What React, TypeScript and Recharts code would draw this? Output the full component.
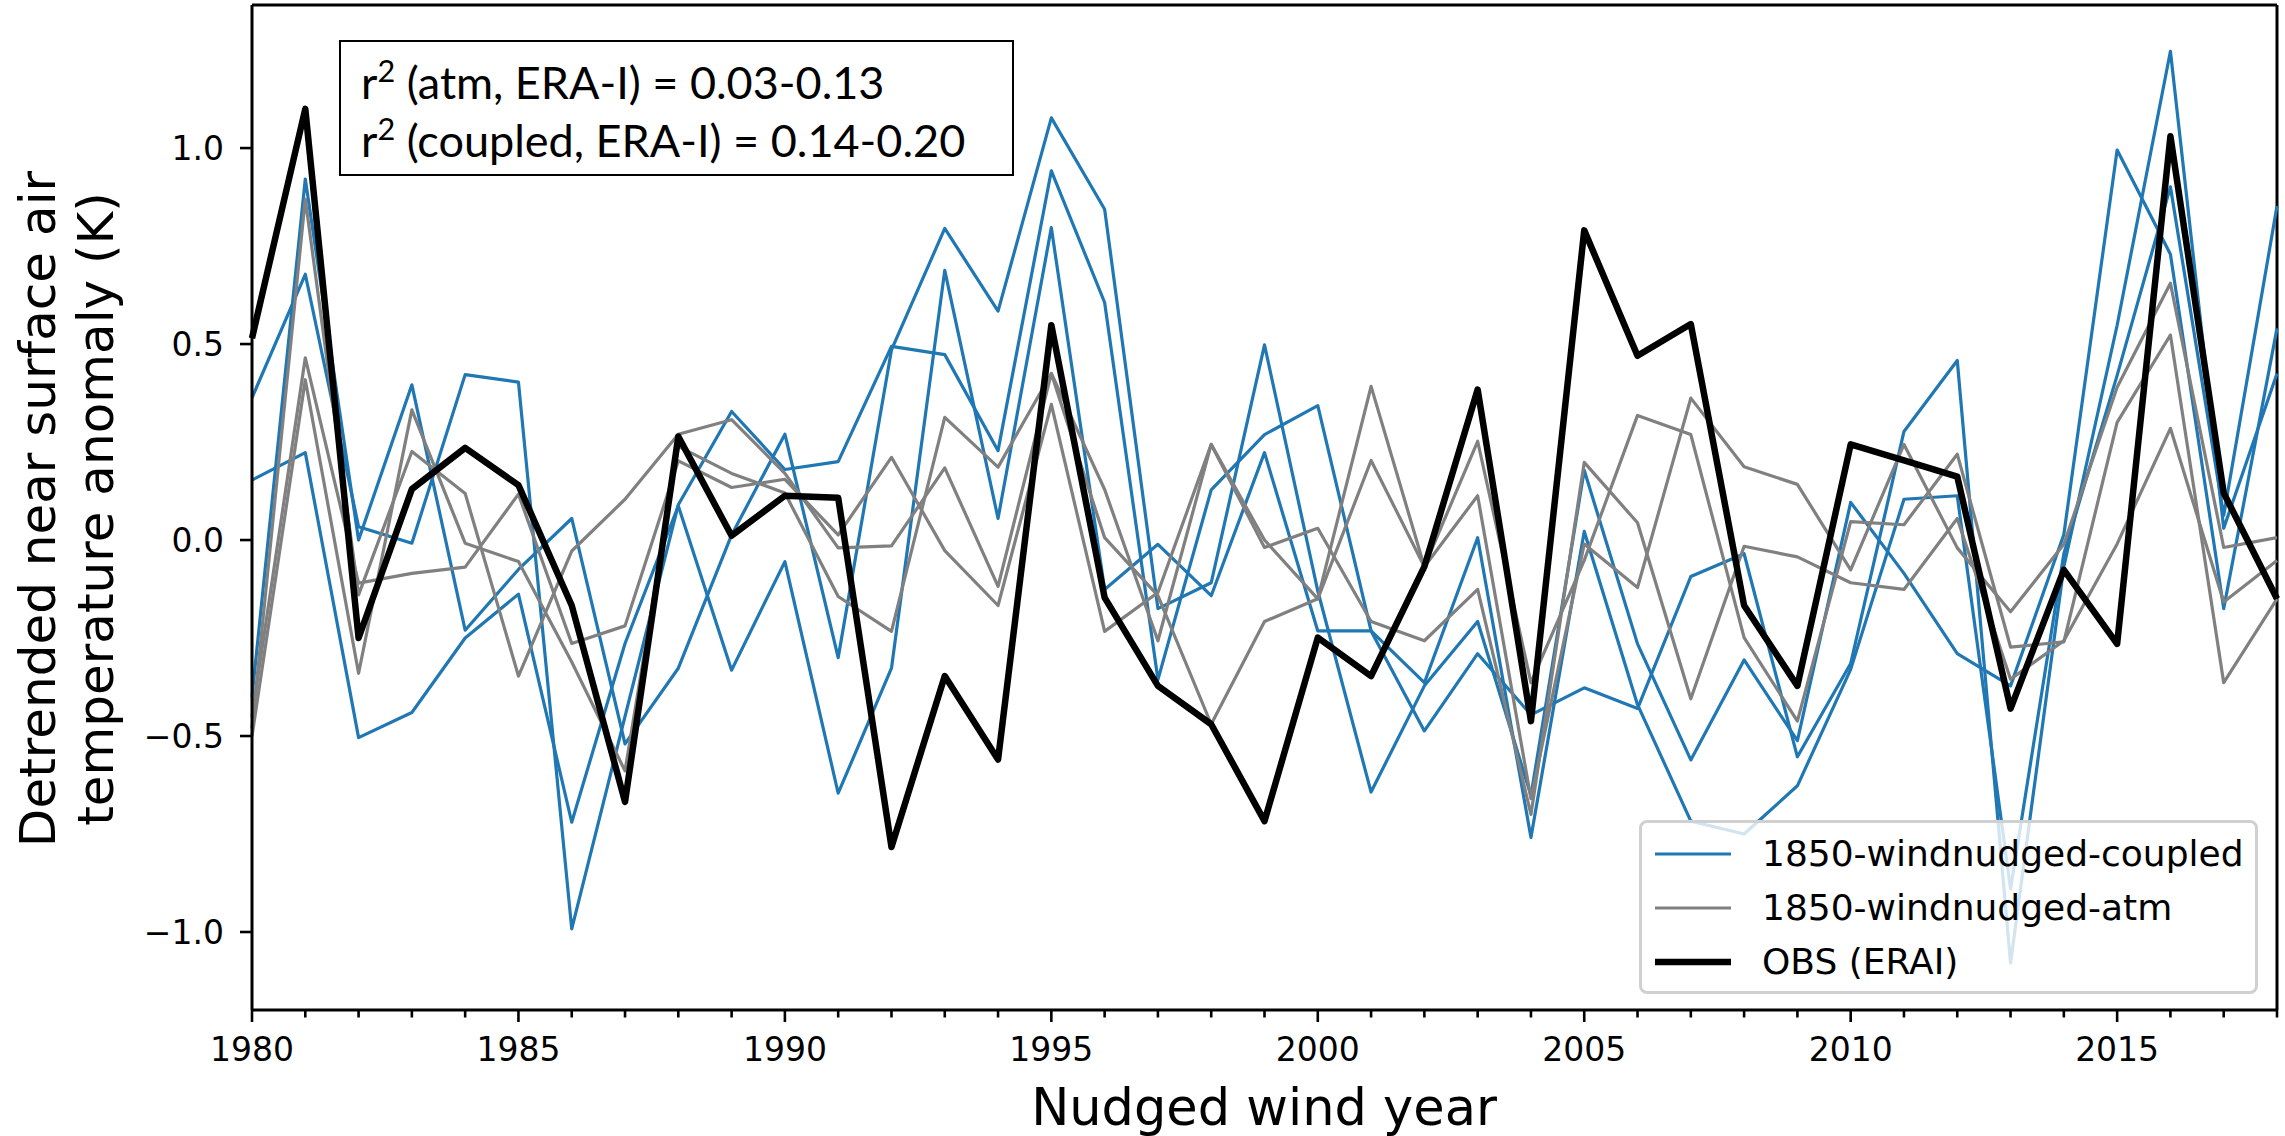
import React from 'react';
import { LineChart, Line, XAxis, YAxis, ReferenceLine, Legend } from 'recharts';

// Detrended near-surface air temperature anomaly (K), one value per nudged wind year
const years = [
  1980, 1981, 1982, 1983, 1984, 1985, 1986, 1987, 1988, 1989,
  1990, 1991, 1992, 1993, 1994, 1995, 1996, 1997, 1998, 1999,
  2000, 2001, 2002, 2003, 2004, 2005, 2006, 2007, 2008, 2009,
  2010, 2011, 2012, 2013, 2014, 2015, 2016, 2017, 2018,
];

const coupled1 = [
  0.363, 0.678, 0.034, -0.008, 0.422, 0.403, -0.992, -0.45, 0.09, 0.328,
  0.18, 0.2, 0.494, 0.473, 0.228, 0.942, 0.606, -0.356, 0.128, 0.269,
  0.343, -0.232, -0.364, 0.006, -0.759, 0.022, -0.42, -0.717, -0.75, -0.627,
  -0.33, 0.104, 0.113, -0.89, -0.035, 0.42, 0.901, 0.063, 0.852,
];
const coupled2 = [
  -0.4, 0.921, 0.0, 0.396, -0.23, -0.075, 0.055, -0.52, -0.327, 0.013,
  0.27, -0.3, 0.485, 0.795, 0.584, 1.077, 0.844, -0.175, -0.109, 0.498,
  -0.13, -0.643, -0.372, -0.208, -0.652, 0.178, -0.265, -0.561, -0.306, -0.512,
  0.096, -0.085, -0.29, -0.372, 0.014, 0.995, 0.729, -0.175, 0.54,
];
const coupled3 = [
  0.153, 0.223, -0.504, -0.44, -0.25, -0.138, -0.72, -0.264, 0.087, -0.332,
  -0.055, -0.646, -0.327, 0.688, 0.055, 0.797, -0.126, -0.011, -0.142, 0.223,
  -0.232, -0.232, -0.487, -0.29, -0.446, -0.377, -0.43, -0.093, -0.035, -0.553,
  -0.315, 0.277, 0.458, -1.079, -0.068, 0.548, 1.247, 0.03, 0.425,
];

const atm1 = [
  -0.45, 0.465, -0.11, -0.085, -0.069, 0.117, -0.264, -0.219, 0.202, 0.134,
  0.155, 0.013, 0.211, -0.027, -0.167, 0.346, -0.233, -0.134, 0.244, -0.019,
  0.03, -0.208, -0.257, -0.126, -0.7, 0.198, 0.044, -0.405, -0.016, -0.043,
  -0.109, -0.126, 0.055, -0.355, -0.257, -0.01, 0.285, -0.158, -0.052,
];
const atm2 = [
  -0.5, 0.409, -0.34, 0.332, -0.008, -0.055, -0.311, -0.589, 0.239, 0.17,
  0.12, -0.144, -0.233, 0.313, 0.186, 0.425, 0.129, -0.257, 0.244, 0.0,
  -0.15, 0.392, -0.068, 0.252, -0.364, -0.052, 0.318, 0.269, -0.249, -0.462,
  0.047, 0.039, 0.219, -0.273, -0.26, 0.3, 0.523, -0.364, -0.15,
];
const atm3 = [
  -0.48, 0.87, -0.14, 0.226, 0.119, -0.347, -0.028, 0.104, 0.27, 0.307,
  0.17, -0.02, -0.015, 0.184, -0.118, 0.425, 0.006, -0.142, -0.47, -0.208,
  -0.15, 0.203, -0.068, 0.113, -0.66, -0.01, -0.121, 0.362, 0.187, 0.142,
  -0.076, 0.244, -0.02, -0.183, -0.011, 0.39, 0.655, -0.019, 0.006,
];

const obsErai = [
  0.515, 1.1, -0.25, 0.13, 0.235, 0.14, -0.167, -0.668, 0.264, 0.011,
  0.113, 0.108, -0.783, -0.347, -0.56, 0.548, -0.147, -0.372, -0.47, -0.717,
  -0.249, -0.347, -0.068, 0.384, -0.462, 0.79, 0.47, 0.551, -0.167, -0.372,
  0.244, 0.203, 0.162, -0.43, -0.076, -0.265, 1.03, 0.12, -0.15,
];

const yTicks = [-1, -0.5, 0, 0.5, 1];
const yDomain = [-1.199, 1.365];

const legendNames = ['1850-windnudged-coupled', '1850-windnudged-atm', 'OBS (ERAI)'];
const statLines = ['(atm, ERA-I) = 0.03-0.13', '(coupled, ERA-I) = 0.14-0.20'];

const BLUE = '#1f77b4';
const GRAY = '#808080';
const BLACK = '#000000';
const TICK_FONT = "'DejaVu Sans', sans-serif";

const data = years.map((year, i) => ({
  year,
  coupled1: coupled1[i],
  coupled2: coupled2[i],
  coupled3: coupled3[i],
  atm1: atm1[i],
  atm2: atm2[i],
  atm3: atm3[i],
  obs: obsErai[i],
}));

const seriesStyle = [
  { key: 'coupled1', color: BLUE, width: 3.2 },
  { key: 'coupled2', color: BLUE, width: 3.2 },
  { key: 'coupled3', color: BLUE, width: 3.2 },
  { key: 'atm1', color: GRAY, width: 3.2 },
  { key: 'atm2', color: GRAY, width: 3.2 },
  { key: 'atm3', color: GRAY, width: 3.2 },
  { key: 'obs', color: BLACK, width: 6.5 },
];
const legendStyle = [
  { color: BLUE, width: 3.2 },
  { color: GRAY, width: 3.2 },
  { color: BLACK, width: 6.5 },
];

const X_TICK_SIZE = 12;
const X_TICK_MARGIN = 16;

// every year gets a minor tick, every fifth year a labelled major tick
const YearTick = (props: any) => {
  const { x, y, payload } = props;
  const year = payload.value as number;
  const major = year % 5 === 0;
  const axisY = y - X_TICK_SIZE - X_TICK_MARGIN;
  return (
    <g>
      <line x1={x} x2={x} y1={axisY} y2={axisY + (major ? 12 : 7.5)} stroke="#000" strokeWidth={2.6} />
      {major && (
        <text x={x} y={axisY + 28} dy="0.71em" textAnchor="middle" fill="#000" fontSize={33} fontFamily={TICK_FONT}>
          {year}
        </text>
      )}
    </g>
  );
};

const renderLegend = () => (
  <div
    style={{
      boxSizing: 'border-box',
      width: '100%',
      height: '100%',
      background: 'rgba(255,255,255,0.8)',
      border: '3px solid #d0d0d0',
      borderRadius: 8,
      position: 'relative',
      fontFamily: TICK_FONT,
      fontSize: 36,
      color: '#000',
    }}
  >
    {legendNames.map((name, i) => (
      <div key={name} style={{ position: 'absolute', left: 0, top: 8 + i * 54, height: 46, display: 'flex', alignItems: 'center' }}>
        <svg width={120} height={46} style={{ display: 'block' }}>
          <line x1={13} x2={89} y1={23} y2={23} stroke={legendStyle[i].color} strokeWidth={legendStyle[i].width} />
        </svg>
        <span style={{ whiteSpace: 'nowrap', lineHeight: '46px' }}>{name}</span>
      </div>
    ))}
  </div>
);

const App = () => {
  return (
    <div style={{ position: 'absolute', left: 0, top: 0, width: 2285, height: 1136, background: '#fff' }}>
      <LineChart width={2285} height={1136} data={data} margin={{ top: 5, right: 8, bottom: 0, left: 0 }}>
        <XAxis
          dataKey="year"
          type="number"
          domain={[1980, 2018]}
          ticks={years}
          interval={0}
          height={126}
          tickSize={X_TICK_SIZE}
          tickMargin={X_TICK_MARGIN}
          tickLine={false}
          axisLine={{ stroke: '#000', strokeWidth: 3 }}
          tick={<YearTick />}
        />
        <YAxis
          type="number"
          domain={yDomain}
          allowDataOverflow
          ticks={yTicks}
          width={252}
          tickSize={12}
          tickMargin={16}
          tickLine={{ stroke: '#000', strokeWidth: 2.6 }}
          axisLine={{ stroke: '#000', strokeWidth: 3 }}
          tick={{ fill: '#000', fontSize: 33, fontFamily: TICK_FONT }}
          tickFormatter={(v: number) => v.toFixed(1).replace('-', '\u2212')}
        />
        <ReferenceLine y={yDomain[1]} stroke="#000" strokeWidth={3} />
        <ReferenceLine x={2018} stroke="#000" strokeWidth={3} />
        {seriesStyle.map((s) => (
          <Line
            key={s.key}
            type="linear"
            dataKey={s.key}
            stroke={s.color}
            strokeWidth={s.width}
            strokeLinejoin="round"
            dot={false}
            activeDot={false}
            isAnimationActive={false}
          />
        ))}
        <Legend
          layout="horizontal"
          align="center"
          verticalAlign="middle"
          content={renderLegend}
          wrapperStyle={{ position: 'absolute', left: 1639, top: 820, width: 619, height: 174 }}
        />
      </LineChart>

      {/* correlation box */}
      <div
        style={{
          position: 'absolute',
          left: 339,
          top: 40,
          width: 675,
          height: 136,
          boxSizing: 'border-box',
          border: '2.5px solid #000',
          background: '#fff',
          fontFamily: "Lato, sans-serif",
          fontSize: 45,
          color: '#000',
        }}
      >
        {statLines.map((t, i) => (
          <div key={t} style={{ position: 'absolute', left: 20, top: 11 + i * 58, lineHeight: '58px', whiteSpace: 'nowrap' }}>
            r<sup style={{ fontSize: '0.68em', verticalAlign: '0.55em', lineHeight: 0 }}>2</sup> {t}
          </div>
        ))}
      </div>

      {/* y axis title */}
      <div
        style={{
          position: 'absolute',
          left: 67 - 450,
          top: 509 - 58,
          width: 900,
          height: 116,
          transform: 'rotate(-90deg)',
          textAlign: 'center',
          fontFamily: TICK_FONT,
          fontSize: 50,
          lineHeight: '58px',
          color: '#000',
        }}
      >
        Detrended near surface air
        <br />
        temperature anomaly (K)
      </div>

      {/* x axis title */}
      <div
        style={{
          position: 'absolute',
          left: 1264 - 400,
          top: 1078,
          width: 800,
          textAlign: 'center',
          fontFamily: TICK_FONT,
          fontSize: 51,
          lineHeight: '60px',
          color: '#000',
        }}
      >
        Nudged wind year
      </div>
    </div>
  );
};

export default App;
